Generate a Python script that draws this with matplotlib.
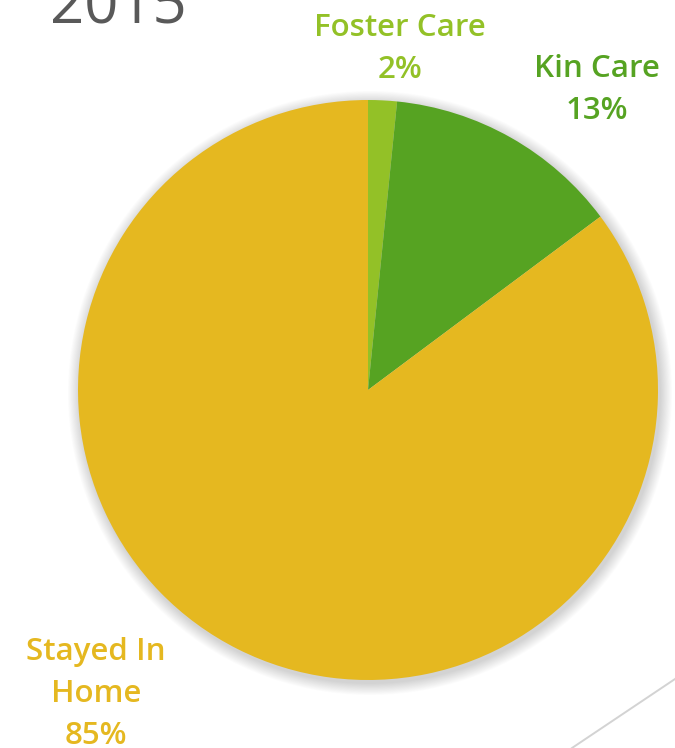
import matplotlib
matplotlib.use("Agg")
import matplotlib.pyplot as plt
from matplotlib.patches import Circle
from matplotlib.lines import Line2D

# Placement outcomes, 2015 (share of cases, %)
categories = ["Foster Care", "Kin Care", "Stayed In Home"]
label_lines = [["Foster Care"], ["Kin Care"], ["Stayed In", "Home"]]
shares = [1.6, 13.2, 85.2]
colors = ["#93C127", "#56A322", "#E5B820"]
title = "2015"

W, H = 675, 748
fig = plt.figure(figsize=(W / 100, H / 100), dpi=100)
fig.patch.set_facecolor("white")

def fx(x):
    return x / W

def fy(y):
    return 1 - y / H

# Pie axes: centre (368, 390) px, radius 290 px, with a margin for the shadow
cx, cy, r = 368, 390, 290
m = 1.06
ax = fig.add_axes([fx(cx - r * m), fy(cy + r * m), 2 * r * m / W, 2 * r * m / H])
ax.set_xlim(-m, m)
ax.set_ylim(-m, m)
ax.set_aspect("equal")
ax.axis("off")

# soft drop shadow around the disc
px = 1 / r
n = 22
for k in range(n):
    ax.add_patch(Circle((2 * px, -3 * px), 1 + (k + 1) * 0.55 * px,
                        color="#606060", alpha=0.013, lw=0, zorder=0))

ax.pie(shares, colors=colors, startangle=90, counterclock=False,
       radius=1, wedgeprops=dict(linewidth=0), center=(0, 0))
ax.set_xlim(-m, m)
ax.set_ylim(-m, m)

font = ["Open Sans", "DejaVu Sans"]

# Category labels with percentage
label_pos = [(400, 36), (597, 77), (96, 660)]
line_gap = 42
for lines, v, col, (x, y0) in zip(label_lines, shares, colors, label_pos):
    rows = lines + [f"{v:.0f}%"]
    for i, t in enumerate(rows):
        fig.text(fx(x), fy(y0 + i * line_gap), t, ha="center", va="baseline",
                 fontsize=22.5, color=col, family=font, fontweight="semibold")

# Title
fig.text(fx(50), fy(24), title, ha="left", va="baseline", fontsize=43,
         color="#595959", family=font)

# decorative slide stroke
fig.add_artist(Line2D([fx(675), fx(572)], [fy(679), fy(748)],
                      color="#D3D3D3", lw=1.4, transform=fig.transFigure))

fig.savefig("out.png", dpi=100, facecolor="white")
